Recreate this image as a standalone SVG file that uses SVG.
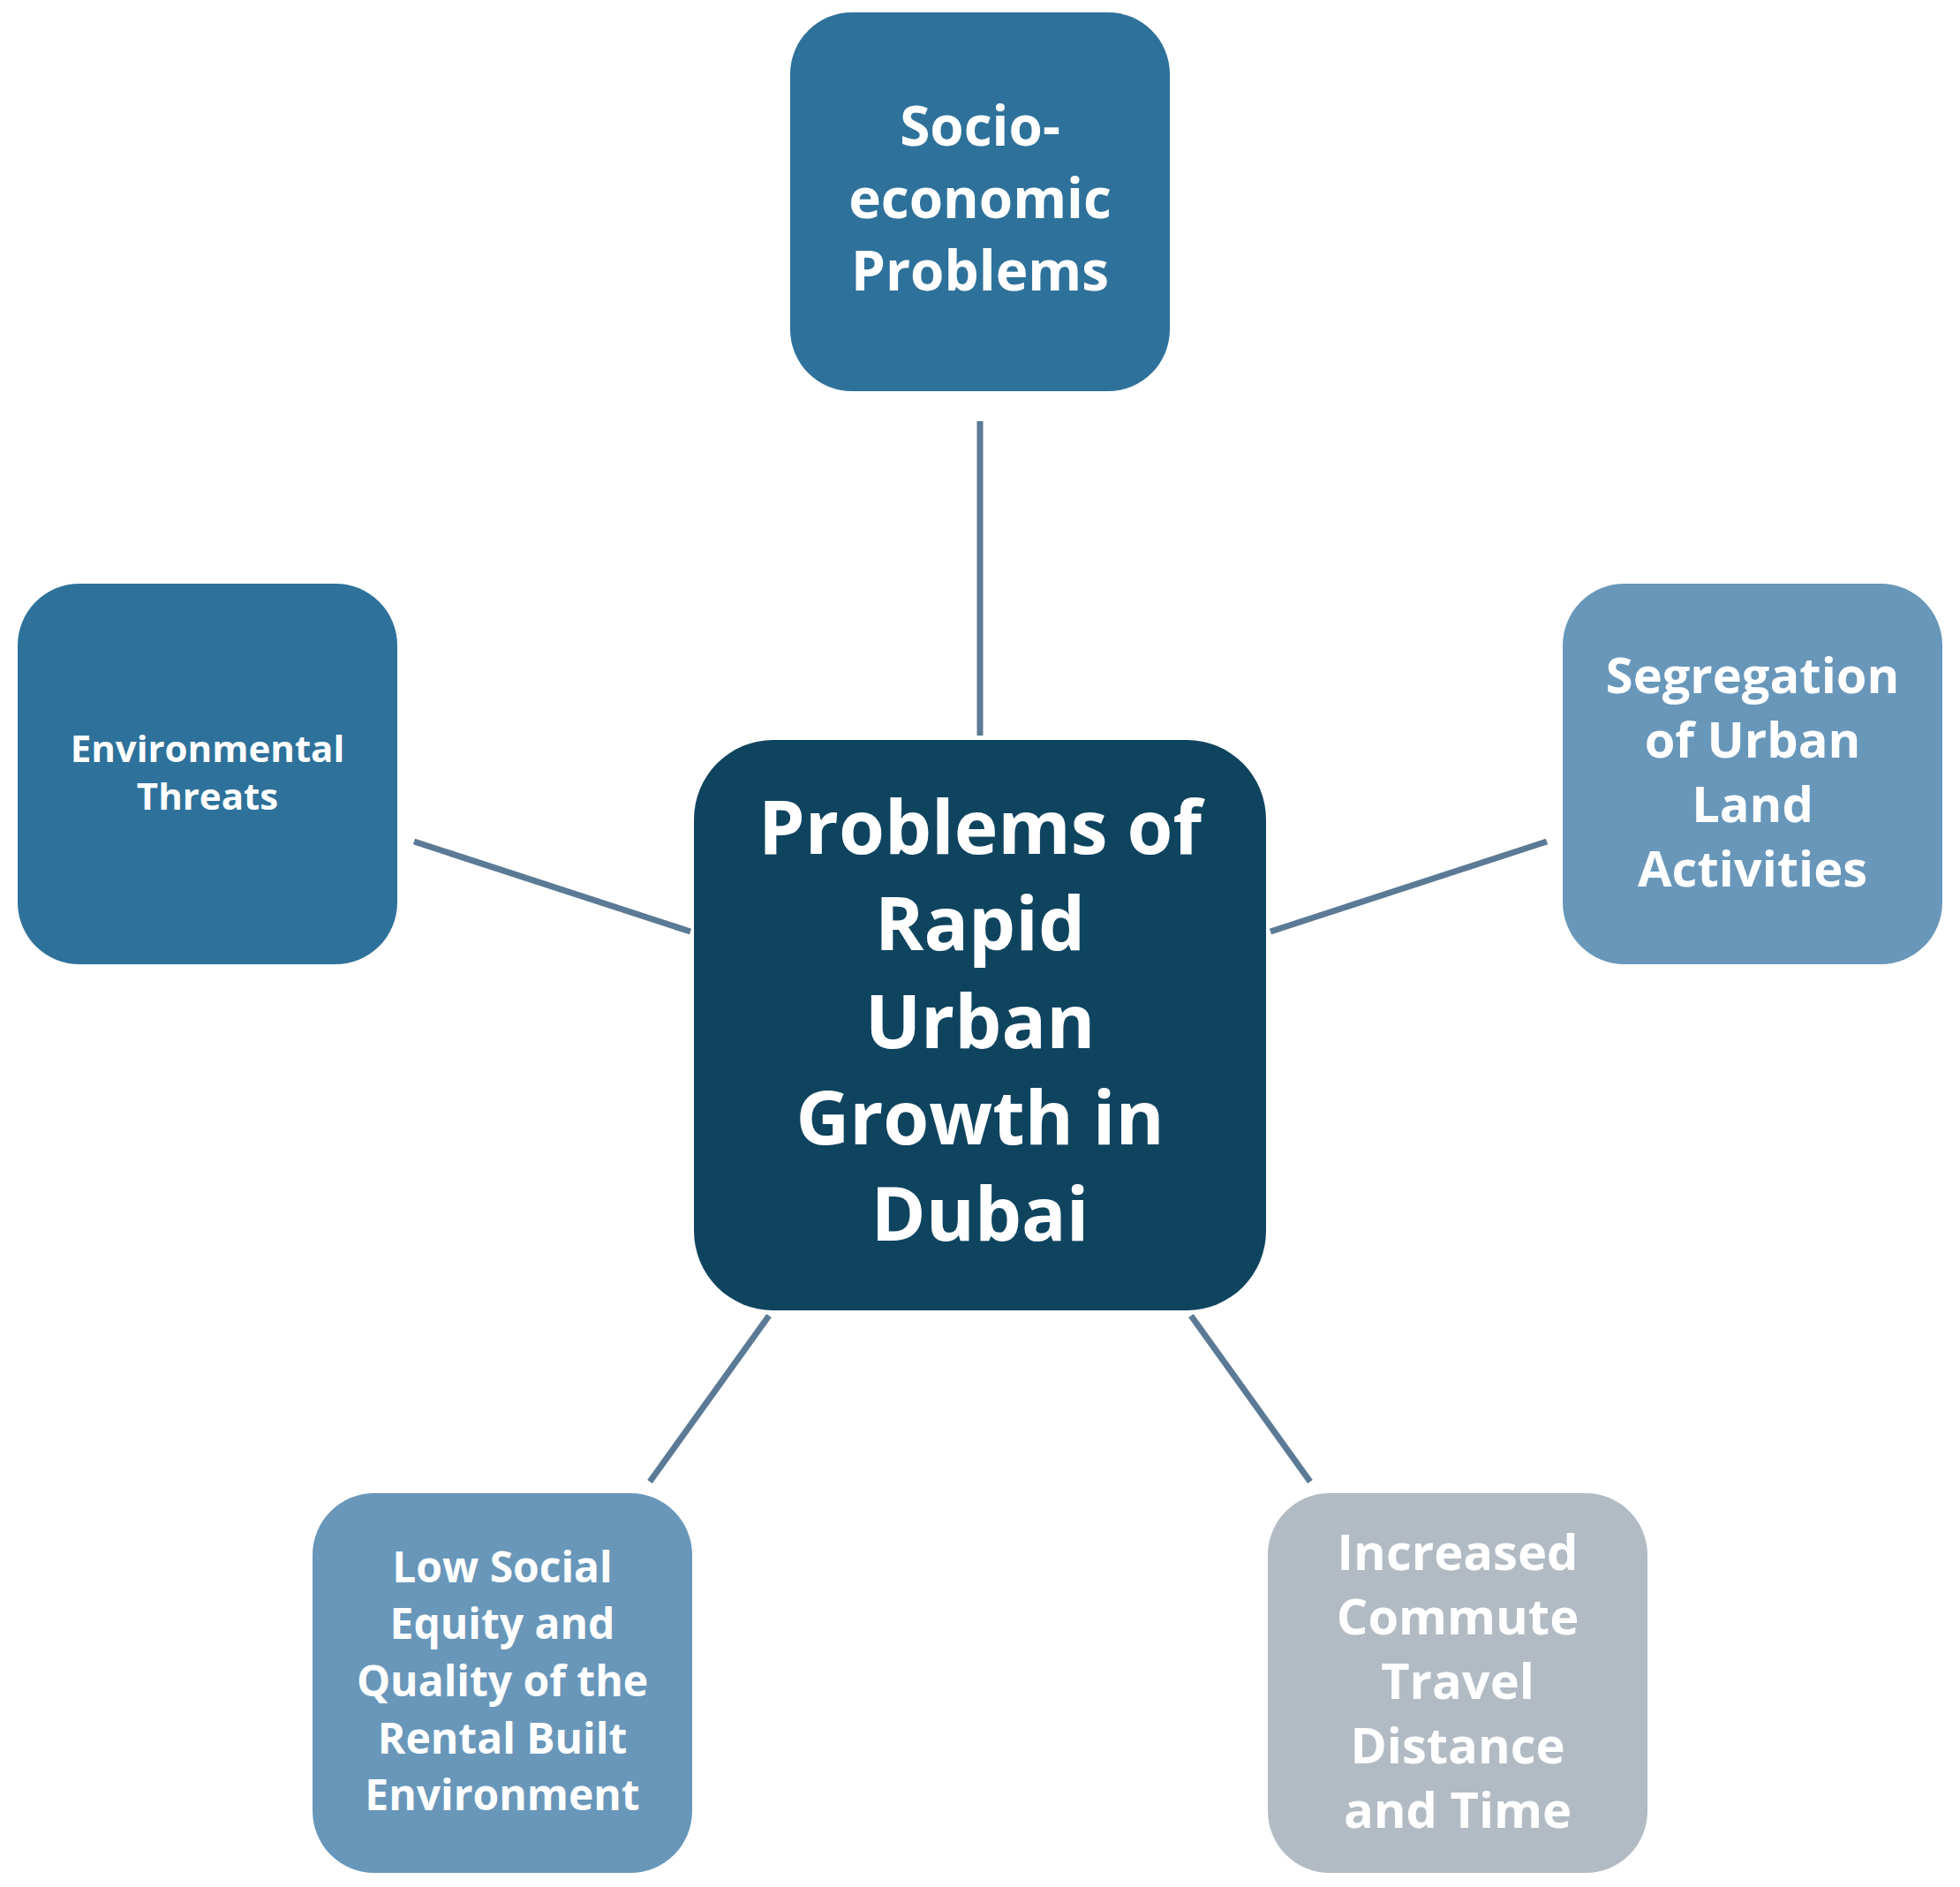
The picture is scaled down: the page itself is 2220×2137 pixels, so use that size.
<svg xmlns="http://www.w3.org/2000/svg" width="2220" height="2137" viewBox="0 0 2220 2137">
<style>
.t{font-family:"Open Sans","Liberation Sans",sans-serif;font-weight:bold;fill:#fff;text-anchor:middle}
.c{stroke:#5B7A95;stroke-width:7;fill:none}
</style>
<rect width="2220" height="2137" fill="#fff"/>
<g id="connectors">
<line class="c" x1="1110" y1="477" x2="1110" y2="833"/>
<line class="c" x1="469" y1="953" x2="782" y2="1055"/>
<line class="c" x1="1752" y1="953" x2="1439" y2="1055"/>
<line class="c" x1="871" y1="1490" x2="736" y2="1678"/>
<line class="c" x1="1349" y1="1490" x2="1484" y2="1678"/>
</g>
<g id="center">
<rect x="786" y="838" width="648" height="646" rx="90" fill="#0F445F"/>
<text class="t" font-size="84"><tspan x="1110" y="967">Problems of</tspan><tspan x="1110" y="1076">Rapid</tspan><tspan x="1110" y="1187">Urban</tspan><tspan x="1110" y="1296">Growth in</tspan><tspan x="1110" y="1405">Dubai</tspan></text>
</g>
<g id="top">
<rect x="895" y="14" width="430" height="429" rx="70" fill="#2E729B"/>
<text class="t" font-size="62"><tspan x="1110" y="165">Socio-</tspan><tspan x="1110" y="247">economic</tspan><tspan x="1110" y="329">Problems</tspan></text>
</g>
<g id="left">
<rect x="20" y="661" width="430" height="431" rx="70" fill="#2E729B"/>
<text class="t" font-size="42"><tspan x="235" y="863">Environmental</tspan><tspan x="235" y="917">Threats</tspan></text>
</g>
<g id="right">
<rect x="1770" y="661" width="430" height="431" rx="70" fill="#6897BA"/>
<text class="t" font-size="56"><tspan x="1985" y="785">Segregation</tspan><tspan x="1985" y="858">of Urban</tspan><tspan x="1985" y="931">Land</tspan><tspan x="1985" y="1004">Activities</tspan></text>
</g>
<g id="bottomleft">
<rect x="354" y="1691" width="430" height="430" rx="70" fill="#6897BA"/>
<text class="t" font-size="48"><tspan x="569" y="1792">Low Social</tspan><tspan x="569" y="1856">Equity and</tspan><tspan x="569" y="1921">Quality of the</tspan><tspan x="569" y="1986">Rental Built</tspan><tspan x="569" y="2050">Environment</tspan></text>
</g>
<g id="bottomright">
<rect x="1436" y="1691" width="430" height="430" rx="70" fill="#B2BBC4"/>
<text class="t" font-size="56"><tspan x="1651" y="1778">Increased</tspan><tspan x="1651" y="1851">Commute</tspan><tspan x="1651" y="1924">Travel</tspan><tspan x="1651" y="1997">Distance</tspan><tspan x="1651" y="2070">and Time</tspan></text>
</g>
</svg>
